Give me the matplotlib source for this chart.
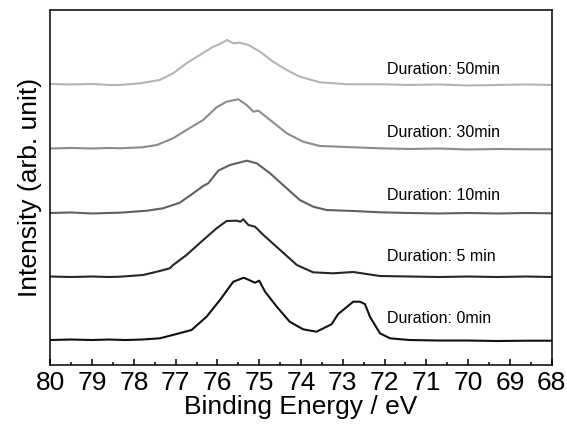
import matplotlib.pyplot as plt

plt.rcParams["font.family"] = ["Liberation Sans", "DejaVu Sans"]

# binding energy (eV) / intensity (arb.), offsets included
e_0 = [80.0, 79.5, 79.0, 78.6, 78.2, 77.8, 77.38, 76.98, 76.62, 76.26, 75.94, 75.62,
       75.37, 75.10, 75.00, 74.86, 74.58, 74.27, 73.95, 73.63, 73.27, 73.11, 72.75,
       72.59, 72.47, 72.35, 72.11, 71.87, 71.4, 70.7, 70.0, 69.3, 68.6, 68.0]
i_0 = [25, 25.5, 25, 25.5, 25, 25.5, 26.7, 31, 35, 48.3, 65, 83.3,
       87.3, 82.3, 84.3, 73.3, 58.3, 43.3, 35.7, 33.3, 40.7, 51, 63.3,
       63.3, 61, 48.3, 31.7, 26.7, 25, 24.5, 24.5, 24, 24.3, 24.3]

e_5 = [80.0, 79.5, 79.0, 78.6, 78.33, 77.78, 77.38, 77.14, 77.06, 76.74, 76.34, 76.02,
       75.78, 75.54, 75.45, 75.38, 75.26, 75.10, 74.90, 74.50, 74.10, 73.71, 73.23,
       72.75, 72.11, 71.4, 70.7, 70.0, 69.3, 68.6, 68.0]
i_5 = [88.5, 88, 88.5, 88, 88.3, 90, 94, 96.7, 100, 110, 125, 136.7,
       144, 144.3, 143.3, 145.7, 140, 138.3, 130, 115, 100, 92.7, 91.7,
       93, 89, 88.5, 88, 88.5, 88, 88.5, 88]

e_10 = [80.0, 79.5, 79.0, 78.6, 78.33, 77.69, 77.30, 76.90, 76.58, 76.34, 76.22, 75.98,
        75.70, 75.30, 75.06, 74.74, 74.43, 74.03, 73.71, 73.39, 72.75, 72.11, 71.4,
        70.7, 70.0, 69.3, 68.6, 68.0]
i_10 = [152, 152.5, 151.5, 152, 152.3, 154.3, 156.7, 162.3, 171.7, 179, 181.7, 194.3,
        200, 204.3, 201.7, 191.7, 180, 165, 158.3, 155, 154, 152.7, 152,
        151.5, 152, 151.5, 152, 151.7]

e_30 = [80.0, 79.5, 79.0, 78.6, 78.33, 77.78, 77.45, 77.06, 76.74, 76.34, 76.02, 75.78,
        75.50, 75.30, 75.14, 75.02, 74.74, 74.34, 73.95, 73.55, 72.75, 72.11, 71.4,
        70.7, 70.0, 69.3, 68.6, 68.0]
i_30 = [216.5, 217, 216.5, 217, 216.7, 217.7, 220, 226.7, 235, 245, 257.7, 263.3,
        265.7, 260, 253.3, 254.3, 245, 231.7, 223.3, 219, 217.7, 216.7, 216,
        216.5, 215.5, 216, 215.7, 215.7]

e_50 = [80.0, 79.5, 79.0, 78.6, 78.33, 77.85, 77.38, 77.06, 76.74, 76.42, 76.10, 75.94,
        75.77, 75.62, 75.46, 75.26, 74.98, 74.67, 74.34, 74.03, 73.55, 72.91, 72.11,
        71.4, 70.7, 70.0, 69.3, 68.6, 68.0]
i_50 = [281, 280.5, 281, 280, 280, 281.7, 285, 291.7, 301.7, 310, 318.3, 321,
        325, 321.7, 322.3, 320, 313.3, 303.3, 295, 288.3, 282.7, 280.7, 280.7,
        280, 280.5, 279.5, 280, 280.5, 280]

labels = ["Duration: 0min", "Duration: 5 min", "Duration: 10min",
          "Duration: 30min", "Duration: 50min"]
label_y = [46.7, 108.3, 169, 232.3, 295.7]
label_x = 71.94

colors = ["#111111", "#262626", "#606060", "#8c8c8c", "#b4b4b4"]

fig = plt.figure(figsize=(5.67, 4.33), dpi=100)
ax = fig.add_axes([0.0887, 0.157, 0.8843, 0.820])

curves = [(e_0, i_0), (e_5, i_5), (e_10, i_10), (e_30, i_30), (e_50, i_50)]
for (e, i), c in zip(curves, colors):
    ax.plot(e, i, color=c, lw=1.5)

for txt, y in zip(labels, label_y):
    ax.text(label_x, y, txt, fontsize=11.5, ha="left", va="center")

ax.set_xlim(80, 68)
ax.set_ylim(0, 355)
ax.set_xticks(range(80, 67, -1))
ax.set_xticks([x + 0.5 for x in range(68, 80)], minor=True)
ax.set_yticks([])
ax.tick_params(axis="x", which="major", direction="in", length=4, width=1.1,
               labelsize=19, pad=4)
ax.tick_params(axis="x", which="minor", direction="in", length=2.5, width=1.1)
for s in ax.spines.values():
    s.set_linewidth(1.1)

ax.set_xlabel("Binding Energy / eV", fontsize=19, labelpad=0)
ax.set_ylabel("Intensity (arb. unit)", fontsize=19, labelpad=6)

fig.savefig("out.png", dpi=100)
